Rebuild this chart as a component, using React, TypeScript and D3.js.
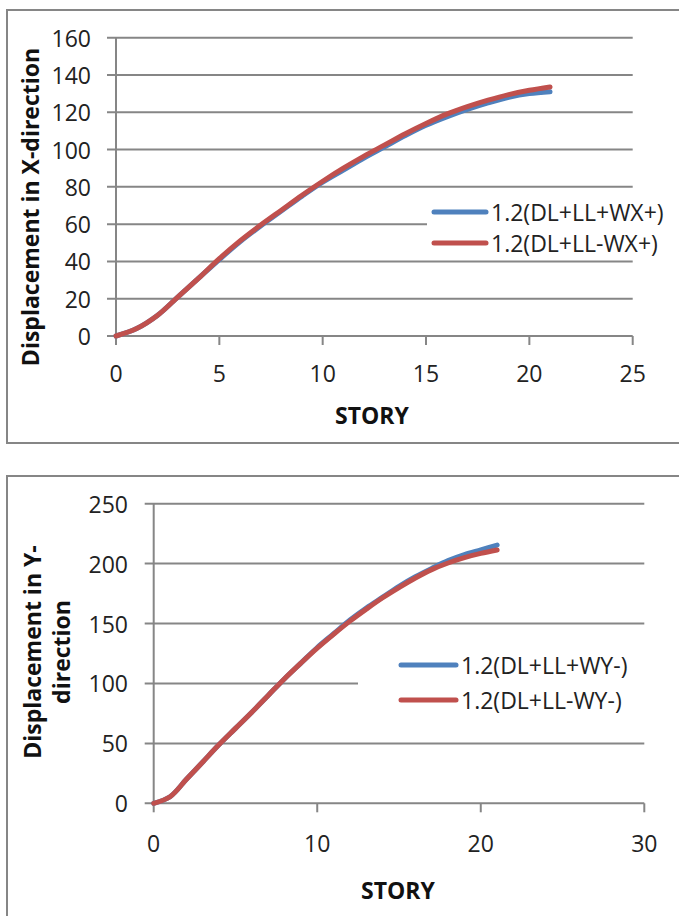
import * as d3 from 'd3';

// story numbers (x values)
const stories = [0, 1, 2, 3, 4, 5, 6, 7, 8, 9, 10, 11, 12, 13, 14, 15, 16, 17, 18, 19, 20, 21];

// displacement in X-direction
const wxPlus = [0, 4, 11, 21, 31, 41, 50.5, 59, 67, 75, 82.5, 89, 95.5, 101.5, 107.5, 113, 117.5, 121.5, 125, 128, 130, 131];
const wxMinus = [0, 4, 11, 21, 31, 41.5, 51, 59.5, 67.5, 75.5, 83, 90, 96.5, 102.5, 108.5, 114, 119, 123, 126.5, 129.5, 131.8, 133.6];

// displacement in Y-direction
const wyPlus = [0, 5.5, 20, 34.5, 49, 62.5, 76, 90, 104, 117, 130, 141.5, 153, 163, 172, 181, 189, 196, 202.5, 207.5, 211.5, 215.5];
const wyMinus = [0, 5.5, 20, 34.5, 49, 62.5, 76, 90, 104, 117, 129.5, 141, 152, 162, 171.5, 180, 188, 195, 200.5, 205, 208.5, 211.3];

const topLegend = ['1.2(DL+LL+WX+)', '1.2(DL+LL-WX+)'];
const bottomLegend = ['1.2(DL+LL+WY-)', '1.2(DL+LL-WY-)'];

const BLUE = '#4F81BD';
const RED = '#C0504D';
const GRID = '#868686';
const FONT = '"Open Sans", "Noto Sans", sans-serif';
const TICK_SIZE = 23;
const TITLE_SIZE = 23;

interface ChartProps {
  frame: { x: number; y: number; w: number; h: number };
  plot: { left: number; top: number; right: number; bottom: number };
  xMax: number;
  xTicks: number[];
  yMax: number;
  yTicks: number[];
  series: number[][];
  names: string[];
  legend: { x: number; y: number; w: number; h: number; rows: number[]; x0: number; x1: number; tx: number };
  yLabel: { text: string; x: number }[];
  yLabelY: number;
  yTickX: number;
  xTickY: number;
  story: { x: number; y: number };
}

const Chart = (p: ChartProps) => {
  const x = d3.scaleLinear().domain([0, p.xMax]).range([p.plot.left, p.plot.right]);
  const y = d3.scaleLinear().domain([0, p.yMax]).range([p.plot.bottom, p.plot.top]);
  const line = d3
    .line<number>()
    .x((_, i) => x(stories[i]))
    .y((d) => y(d))
    .curve(d3.curveCatmullRom.alpha(0.5));
  const colors = [BLUE, RED];

  return (
    <g>
      <rect x={p.frame.x} y={p.frame.y} width={p.frame.w} height={p.frame.h} fill="white" stroke={GRID} strokeWidth={2} />
      {/* gridlines + y ticks */}
      {p.yTicks.map((t) => (
        <g key={t}>
          <line x1={p.plot.left - 9} x2={p.plot.right} y1={y(t)} y2={y(t)} stroke={GRID} strokeWidth={2} />
          <text x={p.yTickX} y={y(t)} textAnchor="end" dominantBaseline="central" fontSize={TICK_SIZE} fontFamily={FONT} fill="#222">
            {t}
          </text>
        </g>
      ))}
      <line x1={p.plot.left} x2={p.plot.left} y1={p.plot.top} y2={p.plot.bottom} stroke={GRID} strokeWidth={2} />
      {p.xTicks.map((t) => (
        <g key={t}>
          <line x1={x(t)} x2={x(t)} y1={p.plot.bottom} y2={p.plot.bottom + 9} stroke={GRID} strokeWidth={2} />
          <text x={x(t)} y={p.xTickY} textAnchor="middle" dominantBaseline="central" fontSize={TICK_SIZE} fontFamily={FONT} fill="#222">
            {t}
          </text>
        </g>
      ))}
      {/* legend box covers gridlines */}
      <rect x={p.legend.x} y={p.legend.y} width={p.legend.w} height={p.legend.h} fill="white" />
      {p.series.map((s, i) => (
        <path key={i} d={line(s) ?? ''} fill="none" stroke={colors[i]} strokeWidth={5} strokeLinecap="round" />
      ))}
      {p.names.map((n, i) => (
        <g key={n}>
          <line x1={p.legend.x0} x2={p.legend.x1} y1={p.legend.rows[i]} y2={p.legend.rows[i]} stroke={colors[i]} strokeWidth={5} strokeLinecap="round" />
          <text x={p.legend.tx} y={p.legend.rows[i]} dominantBaseline="central" fontSize={TICK_SIZE} fontFamily={FONT} fill="#222">
            {n}
          </text>
        </g>
      ))}
      {p.yLabel.map((l) => (
        <text
          key={l.text}
          transform={`translate(${l.x},${p.yLabelY}) rotate(-90)`}
          textAnchor="middle"
          dominantBaseline="central"
          fontSize={TITLE_SIZE}
          fontWeight="bold"
          fontFamily={FONT}
          fill="#111"
        >
          {l.text}
        </text>
      ))}
      <text x={p.story.x} y={p.story.y} textAnchor="middle" dominantBaseline="central" fontSize={TITLE_SIZE} fontWeight="bold" fontFamily={FONT} fill="#111">
        STORY
      </text>
    </g>
  );
};

export default function App() {
  return (
    <svg width={679} height={916} style={{ position: 'absolute', left: 0, top: 0, background: 'white' }}>
      <Chart
        frame={{ x: 7, y: 10, w: 700, h: 433 }}
        plot={{ left: 116, top: 37.7, right: 632.7, bottom: 336 }}
        xMax={25}
        xTicks={[0, 5, 10, 15, 20, 25]}
        yMax={160}
        yTicks={[0, 20, 40, 60, 80, 100, 120, 140, 160]}
        series={[wxPlus, wxMinus]}
        names={topLegend}
        legend={{ x: 427, y: 196, w: 260, h: 58, rows: [212, 243], x0: 434, x1: 486, tx: 491 }}
        yLabel={[{ text: 'Displacement in X-direction', x: 30 }]}
        yLabelY={207}
        yTickX={91}
        xTickY={373}
        story={{ x: 372, y: 415 }}
      />
      <Chart
        frame={{ x: 7, y: 476, w: 700, h: 480 }}
        plot={{ left: 153.7, top: 503.7, right: 644.3, bottom: 803.3 }}
        xMax={30}
        xTicks={[0, 10, 20, 30]}
        yMax={250}
        yTicks={[0, 50, 100, 150, 200, 250]}
        series={[wyPlus, wyMinus]}
        names={bottomLegend}
        legend={{ x: 358, y: 643, w: 330, h: 78, rows: [665, 700], x0: 401, x1: 456, tx: 461 }}
        yLabel={[
          { text: 'Displacement in Y-', x: 32 },
          { text: 'direction', x: 61 },
        ]}
        yLabelY={652}
        yTickX={128}
        xTickY={843}
        story={{ x: 398, y: 890 }}
      />
    </svg>
  );
}
